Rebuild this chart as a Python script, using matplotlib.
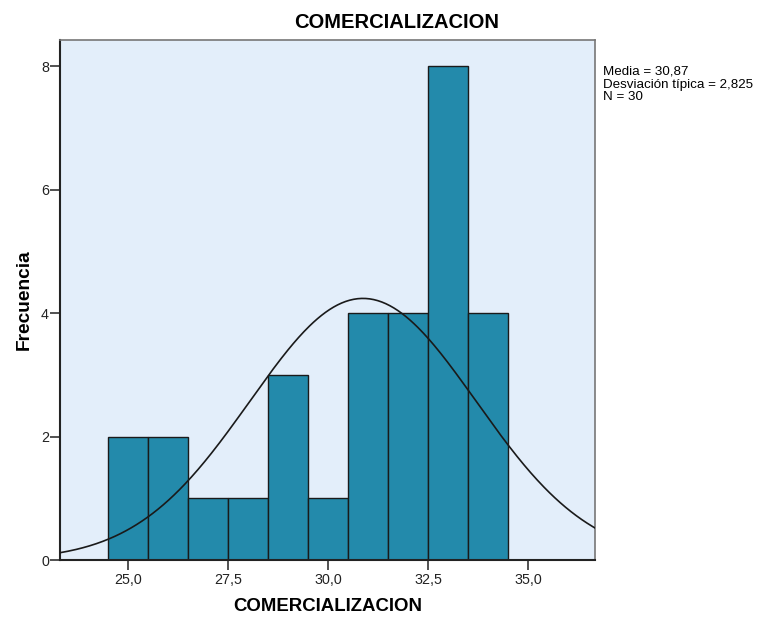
import numpy as np
import matplotlib
matplotlib.use("Agg")
import matplotlib.pyplot as plt

plt.rcParams['font.family'] = ['Liberation Sans', 'DejaVu Sans']

bin_edges = [24.5, 25.5, 26.5, 27.5, 28.5, 29.5, 30.5, 31.5, 32.5, 33.5, 34.5]
counts = [2, 2, 1, 1, 3, 1, 4, 4, 8, 4]
mean = 30.87
std = 2.825
n = 30
x_ticks = [25.0, 27.5, 30.0, 32.5, 35.0]
x_tick_labels = ["25,0", "27,5", "30,0", "32,5", "35,0"]
y_ticks = [0, 2, 4, 6, 8]

fig = plt.figure(figsize=(7.61, 6.18), dpi=100)
ax = fig.add_axes([60/761, 1 - 560/618, 535/761, 520.5/618])
ax.set_facecolor('#e3eefa')

lefts = bin_edges[:-1]
widths = np.diff(bin_edges)
ax.bar(lefts, counts, width=widths, align='edge', color='#238aab',
       edgecolor='#1a1a1a', linewidth=1.0, zorder=2)

xmin, xmax = 23.31, 36.66
xs = np.linspace(xmin, xmax, 400)
bw = widths[0]
ys = n * bw / (std * np.sqrt(2 * np.pi)) * np.exp(-0.5 * ((xs - mean) / std) ** 2)
ax.plot(xs, ys, color='#1a1a1a', linewidth=1.2, zorder=3)

ax.set_xlim(xmin, xmax)
ax.set_ylim(0, 8.43)
ax.set_xticks(x_ticks)
ax.set_xticklabels(x_tick_labels)
ax.set_yticks(y_ticks)
ax.tick_params(axis='both', labelsize=10.3, color='#333333', labelcolor='#222222',
               length=7, width=1.2)
ax.tick_params(axis='x', pad=2)
ax.tick_params(axis='y', pad=1)

for s in ['top', 'right']:
    ax.spines[s].set_color('#777777')
    ax.spines[s].set_linewidth(1.2)
for s in ['left', 'bottom']:
    ax.spines[s].set_color('#222222')
    ax.spines[s].set_linewidth(1.5)

fig.text(397/761, 1 - 23/618, 'COMERCIALIZACION', fontsize=14.5, fontweight='bold',
         ha='center', va='center')
ax.set_xlabel('COMERCIALIZACION', fontsize=13.4, fontweight='bold', labelpad=8)
ax.set_ylabel('Frecuencia', fontsize=13.8, fontweight='bold', labelpad=6)

fig.text(603/761, 1 - 66/618,
         'Media = 30,87\nDesviación típica = 2,825\nN = 30',
         fontsize=9.6, va='top', ha='left', linespacing=1.06)

fig.savefig('out.png', dpi=100)
